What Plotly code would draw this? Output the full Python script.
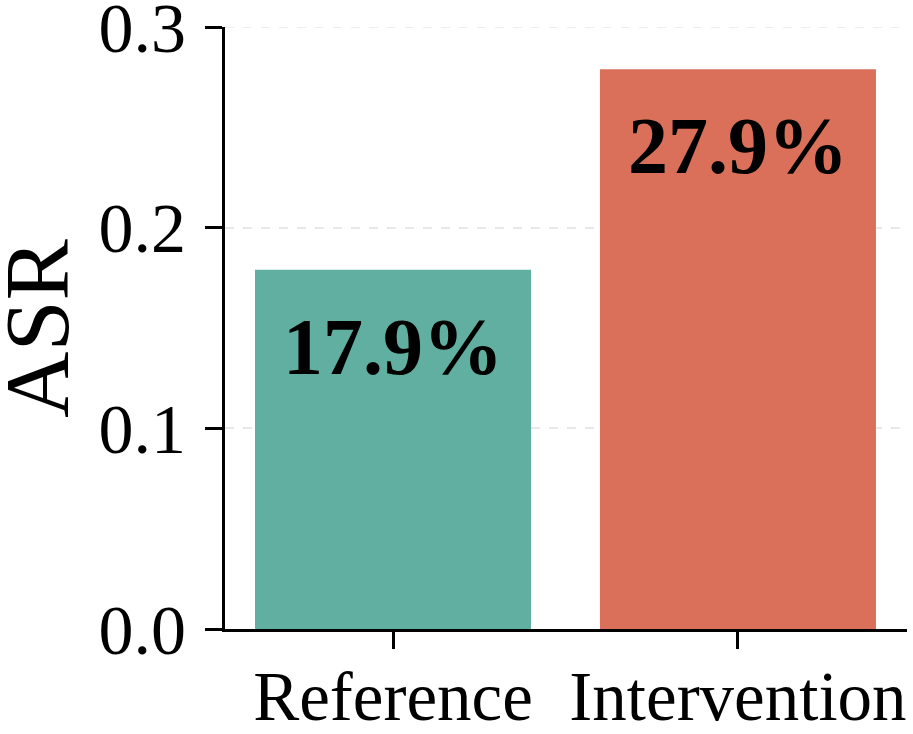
import plotly.graph_objects as go

categories = ["Reference", "Intervention"]
values = [0.179, 0.279]
labels = ["17.9%", "27.9%"]
colors = ["#61AFA1", "#DA7059"]
yticks = [0.0, 0.1, 0.2, 0.3]
ytick_text = ["0.0", "0.1", "0.2", "0.3"]
y_title = "ASR"

font_family = "Liberation Serif, Times New Roman, serif"
grid_color = "#e8e8e8"

fig = go.Figure()
fig.add_trace(go.Bar(
    x=categories, y=values, width=0.8,
    marker=dict(color=colors, line=dict(width=0)),
    hoverinfo="skip",
))

for c, v, t in zip(categories, values, labels):
    fig.add_annotation(
        x=c, y=v, text="<b>" + t + "</b>", showarrow=False,
        yanchor="middle", xanchor="center", yshift=-77,
        font=dict(family=font_family, size=80, color="black"),
    )

# y axis title placed in the left margin
fig.add_annotation(
    x=0, y=0.5, xref="paper", yref="paper", text=y_title, showarrow=False,
    textangle=-90, xanchor="center", yanchor="middle", xshift=-188,
    font=dict(family=font_family, size=92, color="black"),
)

# top gridline (plotly hides the gridline at the range end)
fig.add_hline(y=yticks[-1], line=dict(color=grid_color, width=1.5, dash="dash"), layer="below")

fig.update_layout(
    width=913, height=734,
    margin=dict(l=225, r=6, t=27, b=105),
    paper_bgcolor="white", plot_bgcolor="white",
    showlegend=False,
    font=dict(family=font_family, color="black"),
    bargap=0.2,
)

fig.update_xaxes(
    range=[-0.487, 1.49], automargin=False,
    showline=True, linecolor="black", linewidth=3,
    ticks="outside", ticklen=17, tickwidth=3, tickcolor="black",
    tickfont=dict(family=font_family, size=69, color="black"),
    ticklabelstandoff=-12, ticklabeloverflow="allow",
    showgrid=False, zeroline=False,
)
fig.update_yaxes(
    range=[0, 0.30002], automargin=False,
    tickvals=yticks, ticktext=ytick_text,
    showline=True, linecolor="black", linewidth=3,
    ticks="outside", ticklen=17, tickwidth=3, tickcolor="black",
    tickfont=dict(family=font_family, size=70, color="black"),
    ticklabelstandoff=5, ticklabeloverflow="allow",
    showgrid=True, gridcolor=grid_color, gridwidth=1.5, griddash="dash",
    zeroline=False,
)

fig.write_html("out.html", config={"displayModeBar": False},
               post_script="document.body.style.margin='0';")
